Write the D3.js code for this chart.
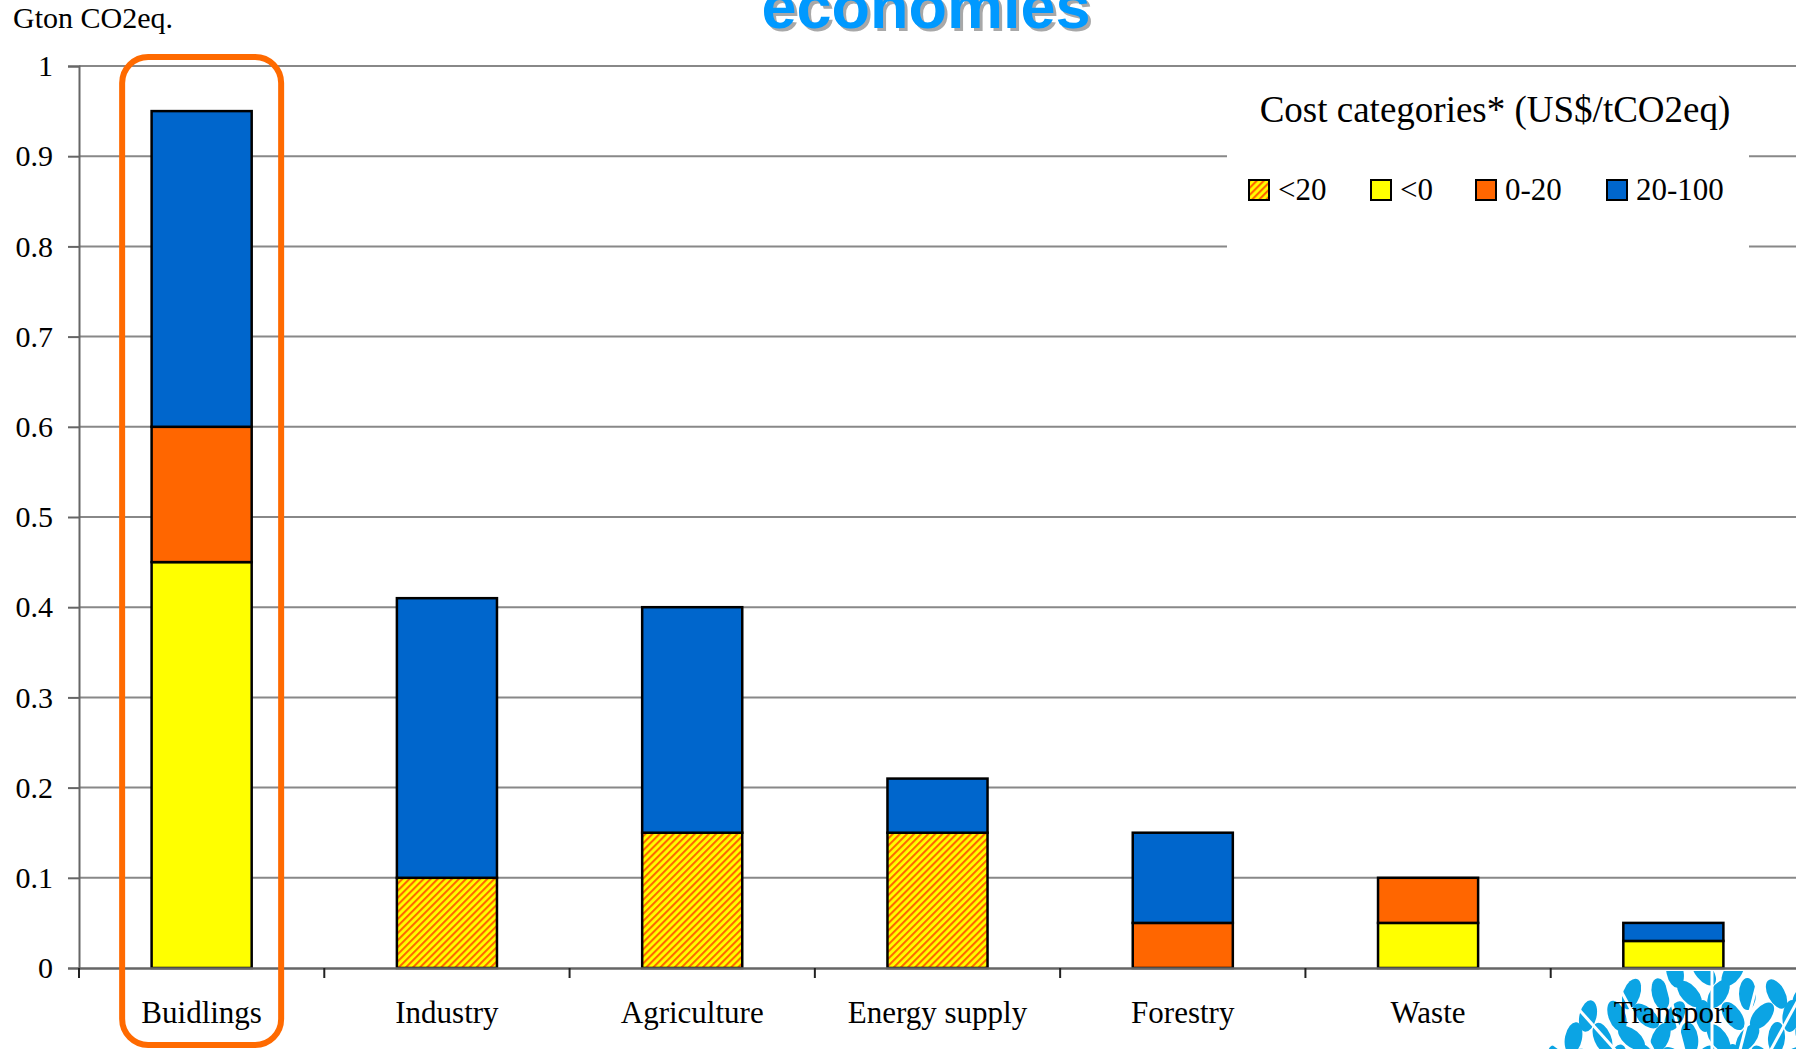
<!DOCTYPE html>
<html>
<head>
<meta charset="utf-8">
<script src="https://cdn.jsdelivr.net/npm/d3@7"></script>
<style>
html,body{margin:0;padding:0;background:#fff;overflow:hidden;}
svg{display:block;}
</style>
</head>
<body>
<svg id="chart" width="1796" height="1049"></svg>
<script>
// ---- data ----
const categories = ["Buidlings","Industry","Agriculture","Energy supply","Forestry","Waste","Transport"];
const seriesKeys = ["<20","<0","0-20","20-100"];
const valLt20   = [0, 0.10, 0.15, 0.15, 0, 0, 0];
const valLt0    = [0.45, 0, 0, 0, 0, 0.05, 0.03];
const val0_20   = [0.15, 0, 0, 0, 0.05, 0.05, 0];
const val20_100 = [0.35, 0.31, 0.25, 0.06, 0.10, 0, 0.02];
const yTicks = [0,0.1,0.2,0.3,0.4,0.5,0.6,0.7,0.8,0.9,1];
const yTickLabels = ["0","0.1","0.2","0.3","0.4","0.5","0.6","0.7","0.8","0.9","1"];
const titleText = "economies";
const yUnit = "Gton CO2eq.";
const legendTitle = "Cost categories* (US$/tCO2eq)";
const highlighted = "Buidlings";

const table = categories.map((c,i)=>({cat:c, "<20":valLt20[i], "<0":valLt0[i], "0-20":val0_20[i], "20-100":val20_100[i]}));
const fills = {"<20":"url(#hatch)","<0":"#ffff00","0-20":"#ff6600","20-100":"#0066cc"};

const svg = d3.select("#chart");
const serif = "'Liberation Serif','Times New Roman',Times,serif";

const defs = svg.append("defs");
const pat = defs.append("pattern").attr("id","hatch").attr("patternUnits","userSpaceOnUse")
  .attr("width",5).attr("height",5).attr("patternTransform","rotate(45)");
pat.append("rect").attr("width",5).attr("height",5).attr("fill","#ffff00");
pat.append("rect").attr("width",2.1).attr("height",5).attr("fill","#ff6600");

const x = d3.scaleBand().domain(categories).range([79,1796]).padding(0);
const y = d3.scaleLinear().domain([0,1]).range([968,66]);
const barW = x.bandwidth()*0.408;

// gridlines
svg.append("g").selectAll("line").data(yTicks.filter(d=>d>0)).join("line")
  .attr("x1",79).attr("x2",1796).attr("y1",d=>y(d)).attr("y2",d=>y(d))
  .attr("stroke","#888").attr("stroke-width",2);

// y axis
const yAxis = svg.append("g").attr("transform","translate(79,0)")
  .call(d3.axisLeft(y).tickValues(yTicks).tickFormat((d,i)=>yTickLabels[i]).tickSize(11).tickPadding(15));
yAxis.select(".domain").attr("stroke","#666").attr("stroke-width",2);
yAxis.selectAll(".tick line").attr("stroke","#666").attr("stroke-width",2);
yAxis.selectAll(".tick text").attr("font-family",serif).attr("font-size",30).attr("fill","#000");

// legend background box (hides gridlines)
svg.append("rect").attr("x",1227).attr("y",76).attr("width",522).attr("height",186).attr("fill","#fff");

// bars
const stack = d3.stack().keys(seriesKeys)(table);
svg.append("g").selectAll("g").data(stack).join("g")
  .attr("fill",d=>fills[d.key])
  .selectAll("rect").data(d=>d.filter(p=>p[1]-p[0]>0)).join("rect")
  .attr("x",d=>x(d.data.cat)+(x.bandwidth()-barW)/2)
  .attr("width",barW)
  .attr("y",d=>y(d[1]))
  .attr("height",d=>y(d[0])-y(d[1]))
  .attr("stroke","#000").attr("stroke-width",2.5);

// x axis
const xAxis = svg.append("g").attr("transform","translate(0,968)")
  .call(d3.axisBottom(x).tickSize(0).tickPadding(0).tickFormat(()=>""));
xAxis.select(".domain").attr("stroke","#666").attr("stroke-width",2.5);
xAxis.selectAll(".tick").remove();
svg.append("g").selectAll("line").data(categories.map(c=>x(c))).join("line")
  .attr("x1",d=>d).attr("x2",d=>d).attr("y1",968).attr("y2",978)
  .attr("stroke","#222").attr("stroke-width",2);

// logo (decorative leaf crown, bottom right)
const lc = {x:1712, y:1118, rx:185, ry:150};
defs.append("clipPath").attr("id","crown").append("rect")
  .attr("x",1500).attr("y",971).attr("width",300).attr("height",80);
const logoG = svg.append("g").attr("clip-path","url(#crown)");
const logo = logoG.append("g").attr("fill","#0ba4e4");
const stepX = 29, stepY = 22;
let row = 0;
for(let py = 972; py < 1070; py += stepY, row++){
  let col = 0;
  for(let px = 1530 + (row%2)*stepX/2; px < 1815; px += stepX, col++){
    const dx = (px-lc.x)/lc.rx, dy = (py-lc.y)/lc.ry;
    if(dx*dx+dy*dy > 1) continue;
    const ang = ((row+col)%3===0 ? -38 : ((row+col)%3===1 ? 32 : -6)) + (px-lc.x)*0.15;
    logo.append("ellipse").attr("cx",px).attr("cy",py).attr("rx",8.5).attr("ry",16)
      .attr("transform",`rotate(${ang},${px},${py})`);
  }
}
// white veins through the crown
for(let k=0;k<11;k++){
  const a = Math.PI*1.05 + (k+0.5)/11*Math.PI*0.9;
  logoG.append("line").attr("x1",lc.x).attr("y1",lc.y+40)
    .attr("x2",lc.x+lc.rx*1.1*Math.cos(a)).attr("y2",lc.y+lc.ry*1.1*Math.sin(a))
    .attr("stroke","#fff").attr("stroke-width",3);
}

// category labels
svg.append("g").selectAll("text").data(categories).join("text")
  .attr("x",d=>x(d)+x.bandwidth()/2).attr("y",1023)
  .attr("text-anchor","middle").attr("font-family",serif).attr("font-size",31).attr("fill","#000")
  .text(d=>d);

// highlight frame
svg.append("rect")
  .attr("x",x(highlighted)+x.bandwidth()/2-79.5).attr("y",57)
  .attr("width",159).attr("height",988).attr("rx",26).attr("ry",26)
  .attr("fill","none").attr("stroke","#ff6a00").attr("stroke-width",6);

// legend
svg.append("text").attr("x",1495).attr("y",122).attr("text-anchor","middle")
  .attr("font-family",serif).attr("font-size",37).attr("fill","#000").text(legendTitle);
const legX = [1249,1371,1476,1607];
const lg = svg.append("g").selectAll("g").data(seriesKeys).join("g")
  .attr("transform",(d,i)=>`translate(${legX[i]},180)`);
lg.append("rect").attr("width",20).attr("height",20).attr("fill",d=>fills[d])
  .attr("stroke","#000").attr("stroke-width",2);
lg.append("text").attr("x",29).attr("y",20).attr("font-family",serif).attr("font-size",31)
  .attr("fill","#000").text(d=>d);

// y unit
svg.append("text").attr("x",13).attr("y",28).attr("font-family",serif).attr("font-size",30)
  .attr("fill","#000").text(yUnit);

// title (clipped at top, as in the reference) with shadow
const tf = "'Liberation Sans',Arial,sans-serif";
svg.append("text").attr("x",929).attr("y",31).attr("text-anchor","middle")
  .attr("font-family",tf).attr("font-weight","bold").attr("font-size",63).attr("fill","#a8a8a8").text(titleText);
svg.append("text").attr("x",926).attr("y",28).attr("text-anchor","middle")
  .attr("font-family",tf).attr("font-weight","bold").attr("font-size",63).attr("fill","#0099ff").text(titleText);
</script>
</body>
</html>
